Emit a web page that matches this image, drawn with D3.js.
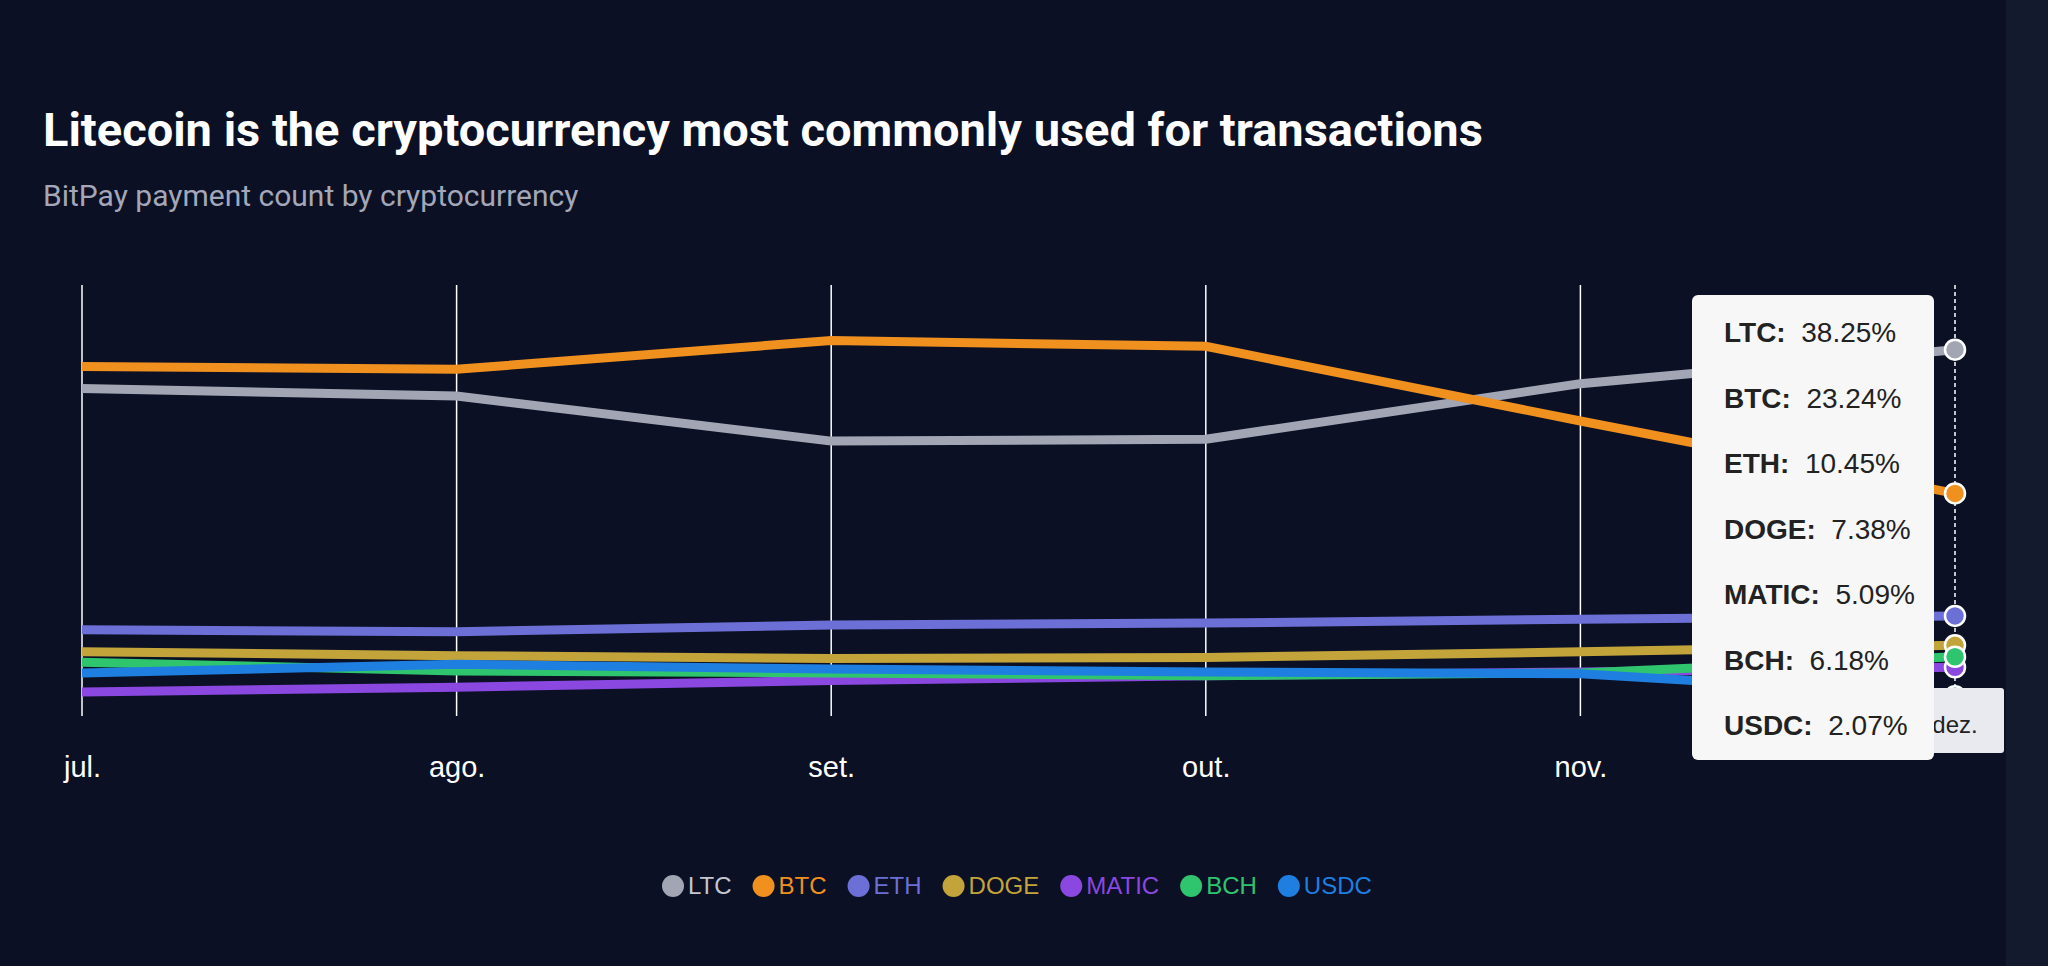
<!DOCTYPE html>
<html><head><meta charset="utf-8">
<script src="https://cdn.jsdelivr.net/npm/d3@7"></script>
<style>body{margin:0;background:#0b1024;overflow:hidden}svg{display:block}</style>
</head><body>
<script>
const months = ["jul.","ago.","set.","out.","nov.","dez."];
const seriesNames = ["LTC","BTC","ETH","DOGE","MATIC","BCH","USDC"];
const colors = ["#a2a5b3","#f0901f","#6c6fd6","#c3a43a","#8a48e0","#2fc46e","#1e7fe0"];
const LTC  = [34.2,33.4,28.7,28.9,34.7,38.25];
const BTC  = [36.5,36.2,39.2,38.6,30.8,23.24];
const ETH  = [9.0,8.8,9.5,9.7,10.1,10.45];
const DOGE = [6.7,6.3,6.0,6.1,6.7,7.38];
const MATIC= [2.5,3.0,3.7,4.2,4.6,5.09];
const BCH  = [5.6,4.7,4.5,4.2,4.5,6.18];
const USDC = [4.5,5.4,4.9,4.6,4.4,2.07];
const tooltipLabels = ["LTC","BTC","ETH","DOGE","MATIC","BCH","USDC"];
const tooltipValues = ["38.25%","23.24%","10.45%","7.38%","5.09%","6.18%","2.07%"];
const values = [LTC,BTC,ETH,DOGE,MATIC,BCH,USDC];

const W=2048,H=966;
const svg=d3.select("body").append("svg").attr("width",W).attr("height",H);
svg.append("rect").attr("width",W).attr("height",H).attr("fill","#0b1024");
svg.append("rect").attr("x",2006).attr("width",42).attr("height",H).attr("fill","#141a2e");
const font="Roboto, 'Liberation Sans', sans-serif";
svg.append("text").attr("x",43).attr("y",146).text("Litecoin is the cryptocurrency most commonly used for transactions")
  .attr("fill","#fff").attr("font-family",font).attr("font-weight",700).attr("font-size",47);
svg.append("text").attr("x",43).attr("y",206).text("BitPay payment count by cryptocurrency")
  .attr("fill","#a3a7b8").attr("font-family",font).attr("font-size",30);

const x=d3.scalePoint().domain(months).range([82,1955]);
const y=d3.scaleLinear().domain([0,45]).range([716,285]);
const g=svg.append("g");
months.forEach((m,i)=>{
  g.append("line").attr("x1",x(m)).attr("x2",x(m)).attr("y1",285).attr("y2",716)
   .attr("stroke","#fff").attr("stroke-width",1.5).attr("stroke-dasharray",i===5?"4,3":null);
});
const xa=svg.append("g").attr("transform","translate(0,716)").call(d3.axisBottom(x).tickSize(0).tickPadding(40));
xa.select(".domain").remove();
xa.selectAll("text").attr("fill","#fff").attr("font-family","'Liberation Sans', Arial, sans-serif").attr("font-size",29);
xa.selectAll(".tick").filter(d=>d==="dez.").remove();

const line=d3.line().x((d,i)=>x(months[i])).y(d=>y(d));
values.forEach((v,k)=>{
  g.append("path").attr("d",line(v)).attr("fill","none").attr("stroke",colors[k]).attr("stroke-width",9);
});
values.forEach((v,k)=>{
  g.append("circle").attr("cx",x(months[5])).attr("cy",y(v[5])).attr("r",10)
   .attr("fill",colors[k]).attr("stroke","#fff").attr("stroke-width",2.5);
});

svg.append("rect").attr("x",1907).attr("y",688).attr("width",97).attr("height",65).attr("rx",3).attr("fill","#e8eaef");
svg.append("text").attr("x",1955).attr("y",733).attr("text-anchor","middle").text("dez.")
  .attr("fill","#222").attr("font-family","'Liberation Sans', Arial, sans-serif").attr("font-size",24);
svg.append("rect").attr("x",1692).attr("y",295).attr("width",242).attr("height",465).attr("rx",6).attr("fill","#f7f7f8");
tooltipLabels.forEach((l,i)=>{
  const t=svg.append("text").attr("x",1724).attr("y",342+i*65.5).attr("fill","#222")
    .attr("font-family","'Liberation Sans', Arial, sans-serif").attr("font-size",28);
  t.append("tspan").attr("font-weight",700).text(l+":");
  t.append("tspan").text("\u00a0 "+tooltipValues[i]);
});

const lg=svg.append("g").attr("font-family","'Liberation Sans', Arial, sans-serif").attr("font-size",24);
let lx=662;
seriesNames.forEach((n,k)=>{
  lg.append("circle").attr("cx",lx+11).attr("cy",886).attr("r",11).attr("fill",colors[k]);
  const t=lg.append("text").attr("x",lx+26).attr("y",894).text(n).attr("fill",k===0?"#c5c7d0":colors[k]);
  lx+=26+t.node().getComputedTextLength()+21;
});
</script>
</body></html>
